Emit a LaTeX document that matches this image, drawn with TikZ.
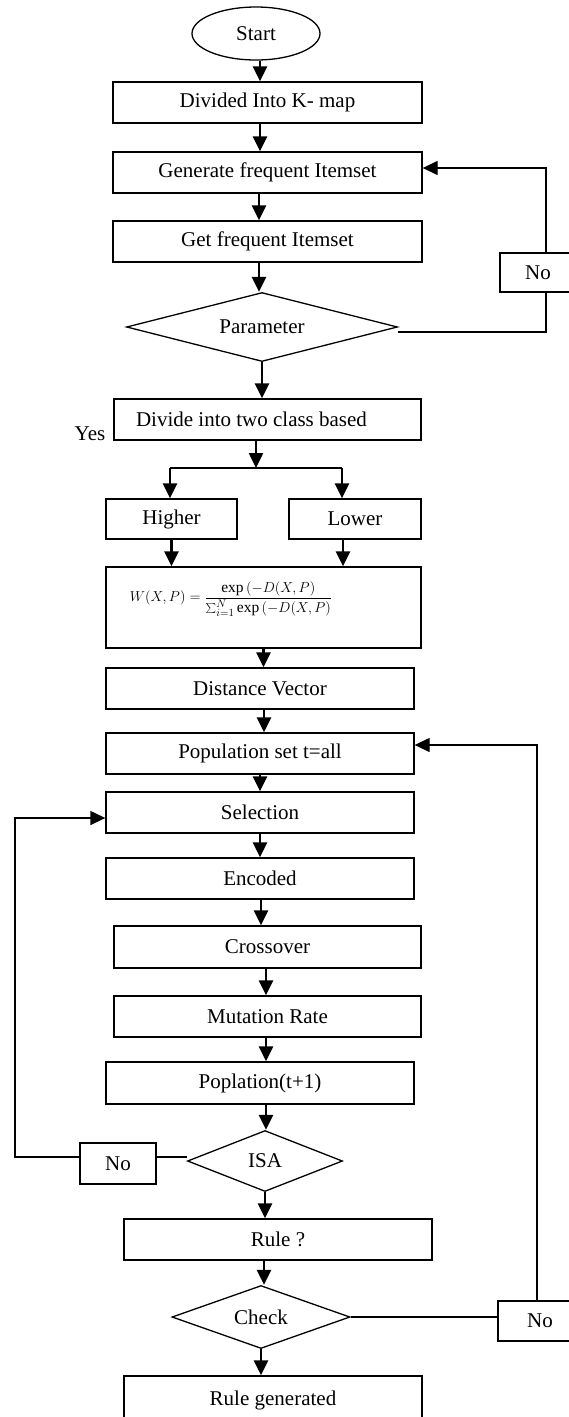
\documentclass[tikz,border=0pt]{standalone}
\usepackage{fontspec}
\setmainfont{Liberation Serif}
\usetikzlibrary{shapes.geometric,arrows.meta}
\tikzset{
  box/.style={draw, line width=1.3pt, rectangle, inner sep=0pt, font=\fontsize{21}{24}\selectfont},
  dia/.style={draw, line width=1.3pt, diamond, inner sep=0pt, font=\fontsize{21}{24}\selectfont},
  startnode/.style={draw, line width=1.3pt, ellipse, inner sep=0pt, font=\fontsize{21}{24}\selectfont},
  arr/.style={line width=2.5pt, -{Triangle[length=15pt,width=14pt]}},
  arrthin/.style={line width=1.3pt, -{Triangle[length=15pt,width=14pt]}},
  link/.style={line width=1.3pt},
  lbl/.style={inner sep=0pt, font=\fontsize{21}{24}\selectfont},
}
\begin{document}
\begin{tikzpicture}[x=1pt,y=-1pt]
\useasboundingbox (0,0) rectangle (568,1417);
% nodes
\node[startnode, minimum width=128pt, minimum height=53pt] (start) at (256,33.5) {Start};
\node[box, minimum width=309pt, minimum height=41pt] (divided) at (267.5,102.5) {Divided Into K- map};
\node[box, minimum width=309pt, minimum height=41pt] (generate) at (267.5,172.5) {Generate frequent Itemset};
\node[box, minimum width=309pt, minimum height=41pt] (getfreq) at (267.5,241.5) {Get frequent Itemset};
\node[dia, minimum width=271pt, minimum height=69pt, shape aspect=3.9] (param) at (262,327) {Parameter};
\node[box, minimum width=76pt, minimum height=39pt] (notop) at (538,272.5) {No};
\node[box, minimum width=307pt, minimum height=41pt] (divide) at (267.5,419.5) {\hspace*{-32pt}Divide into two class based};
\node[lbl] (yes) at (90,434) {Yes};
\coordinate (brL) at (170,468);
\coordinate (brR) at (342,468);
\coordinate (brM) at (256,468);
\node[box, minimum width=131pt, minimum height=40pt] (higher) at (171.5,519) {Higher};
\node[box, minimum width=132pt, minimum height=40pt] (lower) at (355,519) {Lower};
\node[box, minimum width=315pt, minimum height=81pt] (formula) at (263.5,607.5)
  {\hspace*{-65pt}\raisebox{5.6pt}[0pt][0pt]{\fontsize{15.5}{18}\selectfont$\displaystyle W(X,P)=\frac{\exp\,(-D(X,P)}{\sum_{i=1}^{N}\exp\,(-D(X,P)}$}};
\node[box, minimum width=308pt, minimum height=41pt] (distance) at (260,688.5) {Distance Vector};
\node[box, minimum width=308pt, minimum height=41pt] (population) at (260,753.5) {Population set t=all};
\node[box, minimum width=308pt, minimum height=41pt] (selection) at (260,812.5) {Selection};
\node[box, minimum width=308pt, minimum height=41pt] (encoded) at (260,878.5) {Encoded};
\node[box, minimum width=307pt, minimum height=42pt] (crossover) at (267.5,947) {Crossover};
\node[box, minimum width=307pt, minimum height=41pt] (mutation) at (267.5,1016.5) {Mutation Rate};
\node[box, minimum width=308pt, minimum height=42pt] (poplation) at (260,1083) {Poplation(t+1)};
\node[dia, minimum width=155pt, minimum height=61pt, shape aspect=2.5] (isa) at (265,1161) {ISA};
\node[box, minimum width=76pt, minimum height=41pt] (noleft) at (118,1163.5) {No};
\coordinate (lft) at (15,1157);
\node[box, minimum width=308pt, minimum height=41pt] (rule) at (278,1239.5) {Rule ?};
\node[dia, minimum width=178pt, minimum height=63pt, shape aspect=2.8] (check) at (261,1317) {Check};
\node[box, minimum width=84pt, minimum height=40pt] (nobot) at (540,1321) {No};
\node[box, minimum width=298pt, minimum height=48pt] (rulegen) at (273,1400) {Rule generated};
% main flow
\draw[arr] ([xshift=4pt]start.south) -- ([xshift=4pt]start.south |- divided.north);
\draw[arr] ([xshift=-7.5pt]divided.south) -- ([xshift=-7.5pt]divided.south |- generate.north);
\draw[arr] ([xshift=-8.5pt]generate.south) -- ([xshift=-8.5pt]generate.south |- getfreq.north);
\draw[arr] ([xshift=-8.5pt]getfreq.south) -- ([xshift=-8.5pt]getfreq.south |- param.north);
\draw[arr] (param.south) -- (param.south |- divide.north);
\draw[arr] ([xshift=-11.5pt]divide.south) -- (brM);
\draw[link] (brL) -- (brR);
\draw[arr] (brL) -- (brL |- higher.north);
\draw[arr] (brR) -- (brR |- lower.north);
\draw[arr] (higher.south) -- (higher.south |- formula.north);
\draw[arr] ([xshift=-12pt]lower.south) -- ([xshift=-12pt]lower.south |- formula.north);
\draw[arr] (formula.south) -- (formula.south |- distance.north);
\draw[arr] ([xshift=4pt]distance.south) -- ([xshift=4pt]distance.south |- population.north);
\draw[arr] (population.south) -- (population.south |- selection.north);
\draw[arr] (selection.south) -- (selection.south |- encoded.north);
\draw[arr] ([xshift=1pt]encoded.south) -- ([xshift=1pt]encoded.south |- crossover.north);
\draw[arr] ([xshift=-1.5pt]crossover.south) -- ([xshift=-1.5pt]crossover.south |- mutation.north);
\draw[arr] ([xshift=-1.5pt]mutation.south) -- ([xshift=-1.5pt]mutation.south |- poplation.north);
\draw[arr] ([xshift=6pt]poplation.south) -- ([xshift=6pt]poplation.south |- isa.north);
\draw[arr] (isa.south) -- (isa.south |- rule.north);
\draw[arr] ([xshift=-14pt]rule.south) -- ([xshift=-14pt]rule.south |- check.north);
\draw[arr] (check.south) -- (check.south |- rulegen.north);
% loops
\draw[link] ([yshift=-5pt]param.east) -| ([xshift=8pt]notop.south);
\draw[arrthin] ([xshift=8pt]notop.north) |- ([yshift=4.5pt]generate.east);
\draw[link] ([yshift=4pt]isa.west) -- ([yshift=6.5pt]noleft.east);
\draw[arrthin] ([yshift=6.5pt]noleft.west) -- (lft) |- ([yshift=-5.5pt]selection.west);
\draw[link] (check.east) -- (check.east -| nobot.west);
\draw[arrthin] ([xshift=-3pt]nobot.north) |- ([yshift=8.5pt]population.east);
\end{tikzpicture}
\end{document}
